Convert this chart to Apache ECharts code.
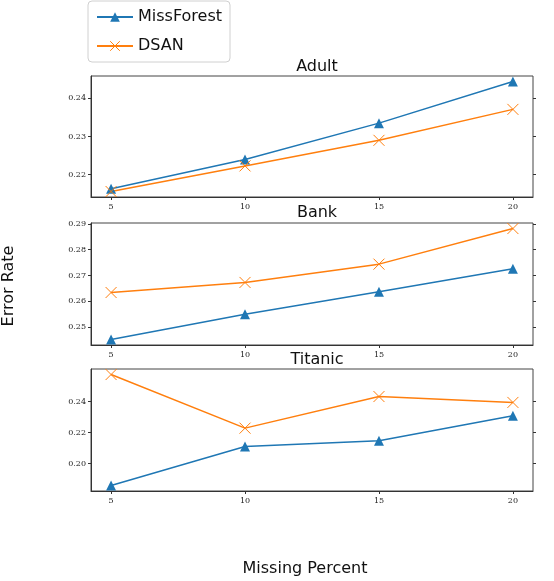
<!DOCTYPE html>
<html>
<head>
<meta charset="utf-8">
<script src="https://cdn.jsdelivr.net/npm/echarts@6/dist/echarts.min.js"></script>
<style>html,body{margin:0;padding:0;background:#fff}#c{width:554px;height:581px}</style>
</head>
<body>
<div id="c"></div>
<script>
const percents = [5, 10, 15, 20];
const xTicks = [5, 10, 15, 20];
const datasets = ['Adult', 'Bank', 'Titanic'];
const adultMissForest = [0.2163, 0.2240, 0.2335, 0.2444];
const adultDSAN = [0.2156, 0.2223, 0.2290, 0.2371];
const bankMissForest = [0.2452, 0.2550, 0.2637, 0.2726];
const bankDSAN = [0.2634, 0.2673, 0.2744, 0.2882];
const titanicMissForest = [0.1858, 0.2110, 0.2146, 0.2308];
const titanicDSAN = [0.2574, 0.2228, 0.2432, 0.2394];
const adultTicks = [0.22, 0.23, 0.24];
const bankTicks = [0.25, 0.26, 0.27, 0.28, 0.29];
const titanicTicks = [0.20, 0.22, 0.24];

const panels = [
  {title: datasets[0], mf: adultMissForest, ds: adultDSAN, ticks: adultTicks},
  {title: datasets[1], mf: bankMissForest, ds: bankDSAN, ticks: bankTicks},
  {title: datasets[2], mf: titanicMissForest, ds: titanicDSAN, ticks: titanicTicks}
];
const layout = [
  {top: 76, height: 121, titleTop: 54},
  {top: 223, height: 122, titleTop: 200},
  {top: 369, height: 122, titleTop: 347}
];
const BLUE = '#1f77b4', ORANGE = '#ff7f0e';
const tickFont = {fontSize: 8, color: '#222', fontFamily: 'DejaVu Serif'};
const xMin = 5 - 0.05 * 15, xMax = 20 + 0.05 * 15;

const grid = [], xAxis = [], yAxis = [], series = [], title = [];
panels.forEach((p, i) => {
  const all = p.mf.concat(p.ds);
  const lo = Math.min(...all), hi = Math.max(...all), m = (hi - lo) * 0.05;
  grid.push({left: 91, width: 442, top: layout[i].top, height: layout[i].height,
    show: true, borderColor: '#444', borderWidth: 1, backgroundColor: '#fff'});
  title.push({text: p.title, left: 312, top: layout[i].titleTop, textAlign: 'center',
    textStyle: {fontSize: 16, fontWeight: 'normal', color: '#111', fontFamily: 'DejaVu Sans'}});
  xAxis.push({type: 'value', gridIndex: i, min: xMin, max: xMax,
    axisLine: {show: true, onZero: false, lineStyle: {color: '#333'}},
    axisTick: {show: true, length: 3, customValues: xTicks, lineStyle: {color: '#333'}},
    axisLabel: {customValues: xTicks, margin: 6, ...tickFont},
    splitLine: {show: false}});
  yAxis.push({type: 'value', gridIndex: i, min: lo - m, max: hi + m,
    axisLine: {show: true, lineStyle: {color: '#333'}},
    axisTick: {show: true, length: 3, customValues: p.ticks, lineStyle: {color: '#333'}},
    axisLabel: {customValues: p.ticks, margin: 5, formatter: v => v.toFixed(2), ...tickFont},
    splitLine: {show: false}});
  yAxis.push({type: 'value', gridIndex: i, min: lo - m, max: hi + m, position: 'right',
    axisLine: {show: false},
    axisTick: {show: true, length: 3, customValues: p.ticks, lineStyle: {color: '#333'}},
    axisLabel: {show: false}, splitLine: {show: false}});
  series.push({name: 'MissForest', type: 'line', xAxisIndex: i, yAxisIndex: i * 2,
    data: percents.map((x, k) => [x, p.mf[k]]),
    symbol: 'triangle', symbolSize: 10,
    lineStyle: {color: BLUE, width: 1.5}, itemStyle: {color: BLUE}});
  series.push({name: 'DSAN', type: 'line', xAxisIndex: i, yAxisIndex: i * 2,
    data: percents.map((x, k) => [x, p.ds[k]]),
    symbol: 'path://M0,0L10,10M10,0L0,10', symbolSize: 11,
    lineStyle: {color: ORANGE, width: 1.5},
    itemStyle: {color: 'rgba(0,0,0,0)', borderColor: ORANGE, borderWidth: 1}});
});

const chart = echarts.init(document.getElementById('c'), null, {renderer: 'canvas'});
chart.setOption({
  animation: false,
  backgroundColor: '#fff',
  title: title,
  legend: {
    data: [
      {name: 'MissForest', itemStyle: {color: BLUE}},
      {name: 'DSAN', itemStyle: {color: 'rgba(0,0,0,0)', borderColor: ORANGE, borderWidth: 1}}
    ],
    orient: 'vertical', left: 88, top: 1,
    backgroundColor: '#fff', borderColor: '#d0d0d0', borderWidth: 1, borderRadius: 4,
    padding: [8, 8, 8, 8], itemWidth: 36, itemHeight: 12, itemGap: 13,
    textStyle: {fontSize: 16, color: '#111', fontFamily: 'DejaVu Sans'}
  },
  grid: grid, xAxis: xAxis, yAxis: yAxis, series: series,
  graphic: [
    {type: 'text', x: 9, y: 286, rotation: Math.PI / 2,
     style: {text: 'Error Rate', fontSize: 16, fill: '#111', fontFamily: 'DejaVu Sans',
       textAlign: 'center', textVerticalAlign: 'middle'}},
    {type: 'text', x: 305, y: 569,
     style: {text: 'Missing Percent', fontSize: 16, fill: '#111',
       fontFamily: 'DejaVu Sans', textAlign: 'center', textVerticalAlign: 'middle'}}
  ]
});
</script>
</body>
</html>
